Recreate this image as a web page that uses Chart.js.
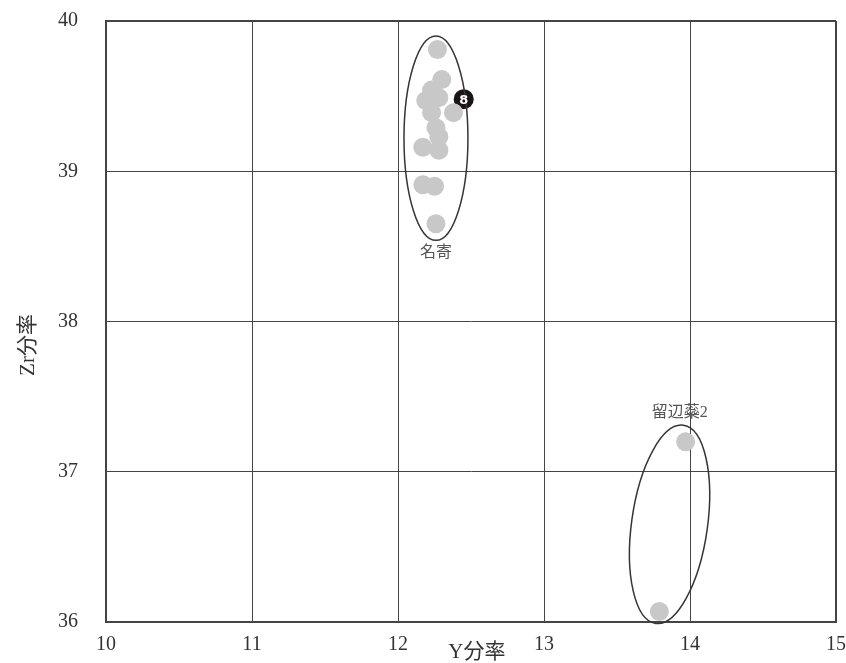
<!DOCTYPE html>
<html>
<head>
<meta charset="utf-8">
<script src="https://cdn.jsdelivr.net/npm/chart.js@4/dist/chart.umd.min.js"></script>
<style>
  html, body { margin: 0; padding: 0; background: #fff; }
  #wrap { width: 846px; height: 663px; }
</style>
</head>
<body>
<div id="wrap"><canvas id="c" width="846" height="663"></canvas></div>
<script>
const nayoroX = [12.27, 12.30, 12.23, 12.19, 12.28, 12.38, 12.23, 12.26, 12.28, 12.17, 12.28, 12.17, 12.25, 12.26];
const nayoroY = [39.81, 39.61, 39.54, 39.47, 39.49, 39.39, 39.39, 39.29, 39.23, 39.16, 39.14, 38.91, 38.90, 38.65];
const rubeshibeX = [13.97, 13.79];
const rubeshibeY = [37.20, 36.07];
const badgeX = [12.45];
const badgeY = [39.48];
const badgeText = ["8"];
const xTicks = [10, 11, 12, 13, 14, 15];
const yTicks = [36, 37, 38, 39, 40];
const groupNames = ["名寄", "留辺蘂2"];
const groupLabelX = [12.26, 13.93];
const groupLabelY = [38.46, 37.39];
// ellipses: centre, half-axes in data units, tilt in degrees
const ellCX = [12.26, 13.86];
const ellCY = [39.22, 36.65];
const ellRX = [0.219, 0.26];
const ellRY = [0.68, 0.666];
const ellRot = [0, 8];

const serif = "'Liberation Serif', 'DejaVu Serif', 'Noto Sans CJK JP', serif";
const pts = (xs, ys) => xs.map((x, i) => ({ x, y: ys[i] }));

const overlay = {
  id: "overlay",
  afterDatasetsDraw(chart) {
    const { ctx, scales: { x, y } } = chart;
    ctx.save();
    ctx.strokeStyle = "#3a3333";
    ctx.lineWidth = 1.5;
    ellCX.forEach((cx, i) => {
      const px = x.getPixelForValue(cx);
      const py = y.getPixelForValue(ellCY[i]);
      const rx = Math.abs(x.getPixelForValue(cx + ellRX[i]) - px);
      const ry = Math.abs(y.getPixelForValue(ellCY[i] + ellRY[i]) - py);
      ctx.beginPath();
      ctx.ellipse(px, py, rx, ry, ellRot[i] * Math.PI / 180, 0, Math.PI * 2);
      ctx.stroke();
    });
    ctx.fillStyle = "#555";
    ctx.font = "16px " + serif;
    ctx.textAlign = "center";
    ctx.textBaseline = "middle";
    groupNames.forEach((n, i) => {
      ctx.fillText(n, x.getPixelForValue(groupLabelX[i]), y.getPixelForValue(groupLabelY[i]));
    });
    ctx.fillStyle = "#fff";
    ctx.font = "bold 13px 'DejaVu Sans', sans-serif";
    badgeText.forEach((t, i) => {
      ctx.fillText(t, x.getPixelForValue(badgeX[i]), y.getPixelForValue(badgeY[i]) + 1);
    });
    // axis titles
    ctx.fillStyle = "#333";
    ctx.font = "21px " + serif;
    ctx.fillText("Y分率", x.getPixelForValue(12.54), 652);
    ctx.translate(28, 345);
    ctx.rotate(-Math.PI / 2);
    ctx.fillText("Zr分率", 0, 0);
    ctx.restore();
  }
};

const edge = (v, lo, hi) => (v === lo || v === hi ? 2 : 1);

new Chart(document.getElementById("c"), {
  type: "scatter",
  data: {
    datasets: [
      { data: pts(nayoroX, nayoroY), backgroundColor: "#c8c8c8", borderWidth: 0, pointRadius: 9.5, pointHoverRadius: 9.5 },
      { data: pts(rubeshibeX, rubeshibeY), backgroundColor: "#c8c8c8", borderWidth: 0, pointRadius: 9.5, pointHoverRadius: 9.5 },
      { data: pts(badgeX, badgeY), backgroundColor: "#1a1414", borderWidth: 0, pointRadius: 10, pointHoverRadius: 10 },
    ],
  },
  options: {
    responsive: false,
    animation: false,
    layout: { padding: { top: 21, right: 7, left: 0, bottom: 0 } },
    plugins: { legend: { display: false }, tooltip: { enabled: false } },
    scales: {
      x: {
        type: "linear", min: 10, max: 15,
        afterBuildTicks: (s) => { s.ticks = xTicks.map((v) => ({ value: v })); },
        afterFit: (s) => { s.height = 41; s.paddingLeft = 0; s.paddingRight = 0; },
        ticks: { color: "#333", padding: 11, font: { family: serif, size: 20 } },
        grid: { color: "#444", lineWidth: (c) => edge(c.tick && c.tick.value, 10, 15), drawTicks: false },
        border: { color: "#444", width: 2 },
      },
      y: {
        type: "linear", min: 36, max: 40,
        afterBuildTicks: (s) => { s.ticks = yTicks.map((v) => ({ value: v })); },
        afterFit: (s) => { s.width = 106; s.paddingTop = 0; s.paddingBottom = 0; },
        ticks: { color: "#333", padding: 28, font: { family: serif, size: 20 } },
        grid: { color: "#444", lineWidth: (c) => edge(c.tick && c.tick.value, 36, 40), drawTicks: false },
        border: { color: "#444", width: 2 },
      },
    },
  },
  plugins: [overlay],
});
</script>
</body>
</html>
